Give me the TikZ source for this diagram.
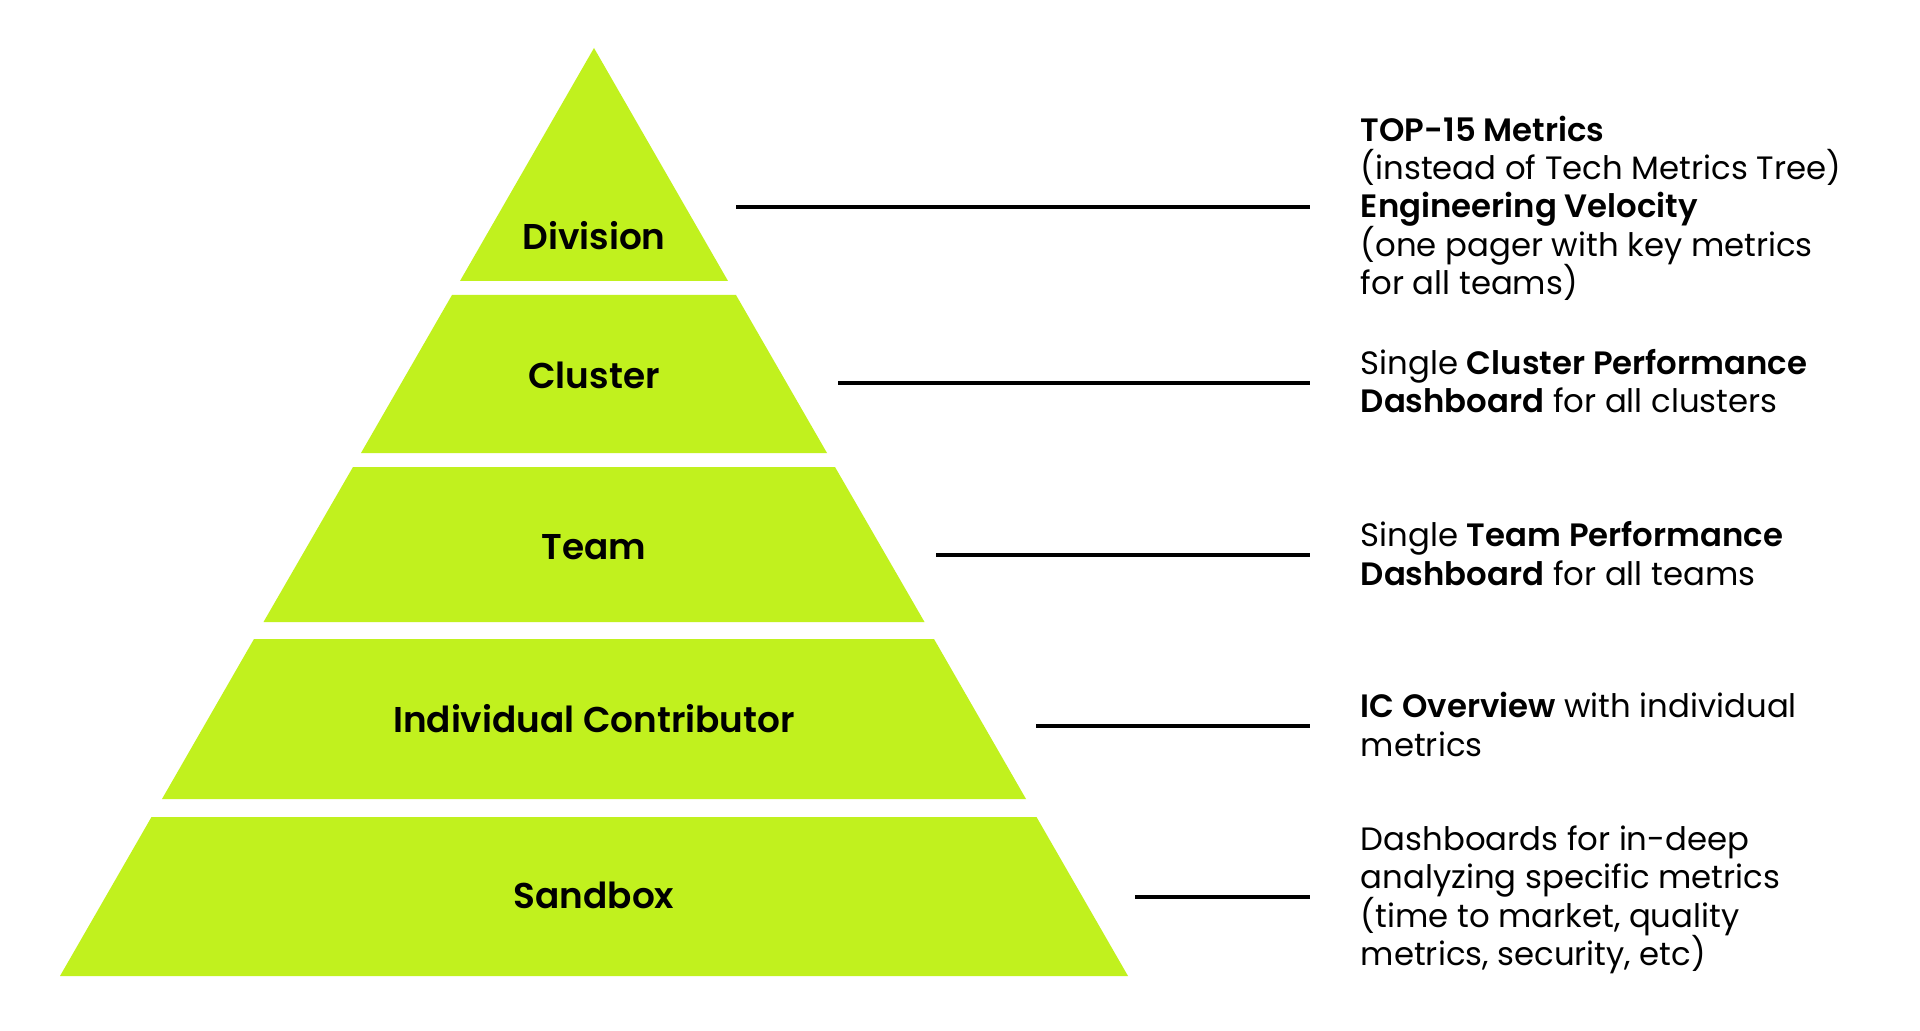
\documentclass[tikz,border=0pt]{standalone}
\usepackage{fontspec}
\setmainfont{Poppins}[BoldFont={Poppins SemiBold}]
\usetikzlibrary{calc}
\usetikzlibrary{positioning}
\definecolor{limepunch}{RGB}{193, 241, 30}

\begin{document}
\begin{tikzpicture}[
        level/.style={font=\fontsize{20.4}{24}\selectfont\bfseries, anchor=base, inner sep=0pt},
        desc/.style={font={\lineskiplimit=-20pt\relax\fontsize{18.4}{21.8}\selectfont}, align=left, anchor=base west, inner sep=0pt},
        link/.style={color=black, line width=1.8pt, shorten >=1.01cm}
    ]
            % Frame to ensure alignment:
            \fill[color=white]                                                ( 0.00, 0.00) rectangle (38.40, 20.60);
            \useasboundingbox                                                 ( 0.00, 0.00) rectangle (38.40, 20.60);
            % Pyramid bands
            \fill[color=limepunch] (11.88, 19.64) -- (14.56, 14.98) -- ( 9.20, 14.98) -- cycle;
            \fill[color=limepunch] ( 9.04, 14.70) -- (14.72, 14.70) -- (16.54, 11.54) -- ( 7.22, 11.54) -- cycle;
            \fill[color=limepunch] ( 7.06, 11.26) -- (16.70, 11.26) -- (18.49,  8.16) -- ( 5.27,  8.16) -- cycle;
            \fill[color=limepunch] ( 5.08,  7.82) -- (18.68,  7.82) -- (20.52,  4.62) -- ( 3.24,  4.62) -- cycle;
            \fill[color=limepunch] ( 3.03,  4.26) -- (20.73,  4.26) -- (22.56,  1.08) -- ( 1.20,  1.08) -- cycle;
            % Level labels
            \node[level] (division) at (11.88, 15.60) {Division};
            \node[level] (cluster)  at (11.88, 12.82) {Cluster};
            \node[level] (team)     at (11.88,  9.42) {Team};
            \node[level] (ic)       at (11.88,  5.96) {Individual Contributor};
            \node[level] (sandbox)  at (11.88,  2.44) {Sandbox};
            % Line start points
            \coordinate (divisionEnd) at (14.72, 16.46);
            \coordinate (clusterEnd)  at (16.76, 12.94);
            \coordinate (teamEnd)     at (18.72,  9.50);
            \coordinate (icEnd)       at (20.72,  6.08);
            \coordinate (sandboxEnd)  at (22.70,  2.66);
            % Descriptions (placed at the baseline of their last line)
            \node[desc] (divisionText) at (27.21, 14.71) {\textbf{TOP-15 Metrics}\\(instead of Tech Metrics Tree)\\\textbf{Engineering Velocity}\\(one pager with key metrics\\for all teams)};
            \node[desc] (clusterText)  at (27.21, 12.34) {Single \textbf{Cluster Performance}\\\textbf{Dashboard} for all clusters};
            \node[desc] (teamText)     at (27.21,  8.90) {Single \textbf{Team Performance}\\\textbf{Dashboard} for all teams};
            \node[desc] (icText)       at (27.21,  5.48) {\textbf{IC Overview} with individual\\metrics};
            \node[desc] (sandboxText)  at (27.21,  1.29) {Dashboards for in-deep\\analyzing specific metrics\\(time to market, quality\\metrics, security, etc)};
            % Connectors
            \draw[link] (divisionEnd) -- (divisionEnd -| divisionText.west);
            \draw[link] (clusterEnd)  -- (clusterEnd -| clusterText.west);
            \draw[link] (teamEnd)     -- (teamEnd -| teamText.west);
            \draw[link] (icEnd)       -- (icEnd -| icText.west);
            \draw[link] (sandboxEnd)  -- (sandboxEnd -| sandboxText.west);
\end{tikzpicture}
\end{document}
